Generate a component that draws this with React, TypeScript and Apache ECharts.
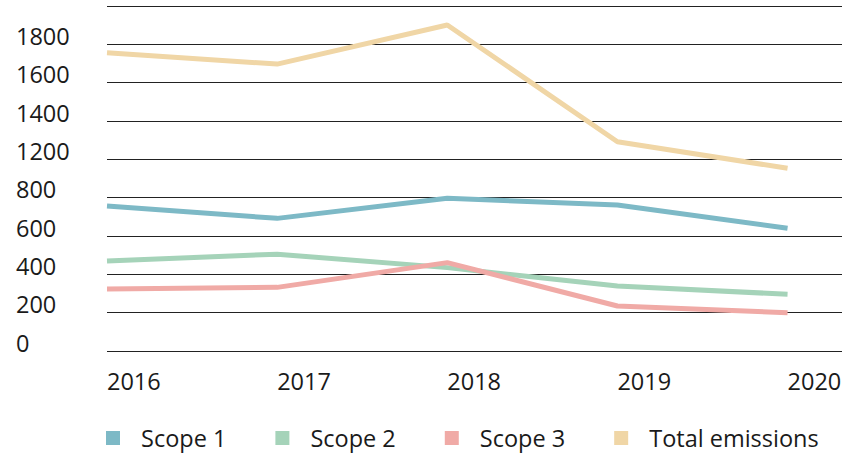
import React, { useEffect, useRef } from "react";
import * as echarts from "echarts";

const years = [2016, 2017, 2018, 2019, 2020];
const scope1 = [757, 692, 797, 762, 640];
const scope2 = [470, 505, 435, 339, 296];
const scope3 = [323, 332, 461, 235, 200];
const totalEmissions = [1556, 1497, 1701, 1092, 953];
const yTickLabels = ["0", "200", "400", "600", "800", "1200", "1400", "1600", "1800", ""];
const seriesNames = ["Scope 1", "Scope 2", "Scope 3", "Total emissions"];
const colors = ["#7db9c6", "#a5d3b9", "#f0aaa6", "#f0d6a6"];

export default function App() {
  const ref = useRef<HTMLDivElement>(null);
  useEffect(() => {
    if (!ref.current) return;
    const chart = echarts.init(ref.current, undefined, { renderer: "svg" });
    const allData = [scope1, scope2, scope3, totalEmissions];
    const font = "'Open Sans', sans-serif";
    const fs = 23.5;
    chart.setOption({
      animation: false,
      backgroundColor: "#ffffff",
      color: colors,
      textStyle: { fontFamily: font },
      grid: { left: 107, right: 17, top: 6, bottom: 104, containLabel: false },
      legend: {
        left: 106,
        top: 426,
        padding: 0,
        icon: "path://M0,0H14V14H0Z M30,7L30,7",
        itemWidth: 30,
        itemHeight: 14,
        itemGap: 49,
        data: seriesNames,
        textStyle: {
          fontFamily: font,
          fontSize: fs,
          color: "#1a1a1a",
        },
      },
      xAxis: {
        type: "value",
        min: 2016,
        max: 2020.32,
        interval: 1,
        axisLine: { show: false },
        axisTick: { show: false },
        splitLine: { show: false },
        axisLabel: {
          showMaxLabel: false,
          align: "left",
          margin: 18,
          fontSize: fs,
          color: "#1a1a1a",
          fontFamily: font,
          formatter: (v: number) => (Number.isInteger(v) ? String(v) : ""),
        },
      },
      yAxis: {
        type: "value",
        min: 0,
        max: 1800,
        interval: 200,
        axisLine: { show: false },
        axisTick: { show: false },
        splitLine: { show: true, lineStyle: { color: "#222222", width: 1 } },
        axisLabel: {
          align: "left",
          verticalAlign: "bottom",
          lineHeight: 17,
          margin: 91,
          fontSize: fs,
          color: "#1a1a1a",
          fontFamily: font,
          formatter: (v: number) => yTickLabels[Math.round(v / 200)] ?? "",
        },
      },
      series: seriesNames.map((name, i) => ({
        name,
        type: "line",
        showSymbol: false,
        symbol: "none",
        lineStyle: { width: 5, color: colors[i] },
        itemStyle: { color: colors[i] },
        data: years.map((y, j) => [y, allData[i][j]]),
      })),
    });
    return () => chart.dispose();
  }, []);
  return (
    <div
      ref={ref}
      style={{ position: "absolute", left: 0, top: 0, width: 859, height: 455 }}
    />
  );
}
